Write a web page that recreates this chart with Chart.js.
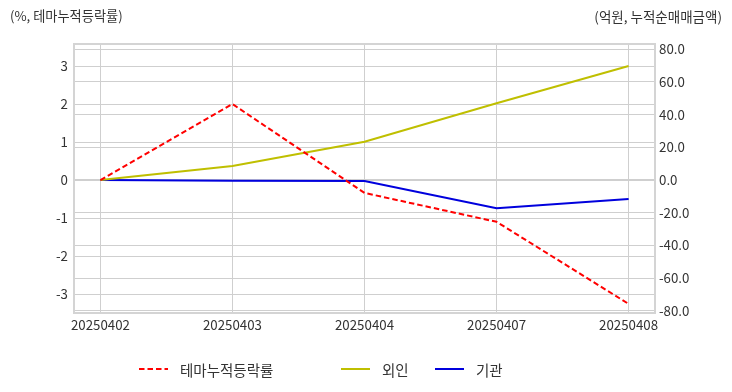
<!DOCTYPE html>
<html>
<head>
<meta charset="utf-8">
<script src="https://cdn.jsdelivr.net/npm/chart.js@4/dist/chart.umd.min.js"></script>
<style>
  html, body { margin: 0; padding: 0; background: #fff; }
  #wrap { width: 732px; height: 392px; position: relative; }
</style>
</head>
<body>
<div id="wrap"><canvas id="lineChart" width="732" height="392"></canvas></div>
<script>
// dates on x axis
var dates = ["20250402", "20250403", "20250404", "20250407", "20250408"];
// theme cumulative change (%), left axis
var themeRate = [0, 2.0, -0.34, -1.10, -3.26];
// cumulative net buying (억원), right axis
var foreign = [0, 8.5, 23.4, 46.9, 69.7];
var institution = [0, -0.4, -0.6, -17.3, -11.6];
var leftTicks = [-3, -2, -1, 0, 1, 2, 3];
var rightTicks = [-80, -60, -40, -20, 0, 20, 40, 60, 80];

var FONT = "'Noto Sans CJK KR', 'Noto Sans', sans-serif";
var TXT = "#333333";
var GRID = "#cfcfcf";

function toPoints(arr){
    return arr.map(function(v, i){ return {x: i, y: v}; });
}

// titles, frame and legend drawn on the canvas
var extras = {
    id: 'extras',
    afterDraw: function(chart){
        var ctx = chart.ctx;
        var a = chart.chartArea;
        ctx.save();
        ctx.strokeStyle = "#d4d4d4";
        ctx.lineWidth = 2;
        ctx.strokeRect(a.left, a.top, a.right - a.left, a.bottom - a.top);

        ctx.fillStyle = TXT;
        ctx.font = "13.2px " + FONT;
        ctx.textBaseline = "middle";
        ctx.textAlign = "left";
        ctx.fillText("(%, 테마누적등락률)", 10, 16);
        ctx.font = "13.5px " + FONT;
        ctx.textAlign = "right";
        ctx.fillText("(억원, 누적순매매금액)", 722, 17);

        // legend
        var slots = [139, 341, 435];
        ctx.textAlign = "left";
        ctx.font = "14.5px " + FONT;
        chart.data.datasets.forEach(function(ds, i){
            var x = slots[i], y = 369;
            ctx.beginPath();
            ctx.strokeStyle = ds.borderColor;
            ctx.lineWidth = 2;
            ctx.setLineDash(ds.borderDash || []);
            ctx.moveTo(x, y);
            ctx.lineTo(x + 29, y);
            ctx.stroke();
            ctx.setLineDash([]);
            ctx.fillStyle = TXT;
            ctx.fillText(ds.label, x + 41, y + 1);
        });
        ctx.restore();
    }
};

function drawChart(){
    const CHART = document.getElementById('lineChart');
    let lineChart = new Chart(CHART, {
        type: 'line',
        data: {
            datasets: [
                {
                    label: "테마누적등락률",
                    data: toPoints(themeRate),
                    borderColor: "#ff0000",
                    borderDash: [5.5, 3],
                    borderWidth: 2,
                    yAxisID: 'yL'
                },
                {
                    label: "외인",
                    data: toPoints(foreign),
                    borderColor: "#bfbf00",
                    borderWidth: 2,
                    yAxisID: 'yR'
                },
                {
                    label: "기관",
                    data: toPoints(institution),
                    borderColor: "#0000dd",
                    borderWidth: 2,
                    yAxisID: 'yR'
                }
            ]
        },
        options: {
            responsive: false,
            animation: false,
            elements: { point: { radius: 0, hoverRadius: 0 }, line: { tension: 0 } },
            layout: { padding: { top: 44, bottom: 54, left: 0, right: 0 } },
            plugins: { legend: { display: false }, tooltip: { enabled: false } },
            scales: {
                x: {
                    type: 'linear',
                    min: -0.2,
                    max: 4.2,
                    afterBuildTicks: function(s){ s.ticks = dates.map(function(d, i){ return {value: i}; }); },
                    afterFit: function(s){ s.height = 25; },
                    grid: { color: GRID, drawTicks: false },
                    border: { display: false },
                    ticks: {
                        padding: 4,
                        color: TXT,
                        font: { family: FONT, size: 13.3 },
                        maxRotation: 0,
                        callback: function(v){ return dates[v]; }
                    }
                },
                yL: {
                    position: 'left',
                    min: -3.5,
                    max: 3.58,
                    afterBuildTicks: function(s){ s.ticks = leftTicks.map(function(v){ return {value: v}; }); },
                    afterFit: function(s){ s.width = 74; },
                    grid: { color: GRID, drawTicks: false },
                    border: { display: false },
                    ticks: { padding: 6, color: TXT, font: { family: FONT, size: 13.3 } }
                },
                yR: {
                    position: 'right',
                    min: -81.3,
                    max: 83.1,
                    afterBuildTicks: function(s){ s.ticks = rightTicks.map(function(v){ return {value: v}; }); },
                    afterFit: function(s){ s.width = 77; },
                    grid: { color: GRID, drawTicks: false },
                    border: { display: false },
                    ticks: {
                        padding: 4,
                        color: TXT,
                        font: { family: FONT, size: 13.3 },
                        callback: function(v){ return v.toFixed(1); }
                    }
                }
            }
        },
        plugins: [extras]
    });
}

drawChart();
</script>
</body>
</html>
